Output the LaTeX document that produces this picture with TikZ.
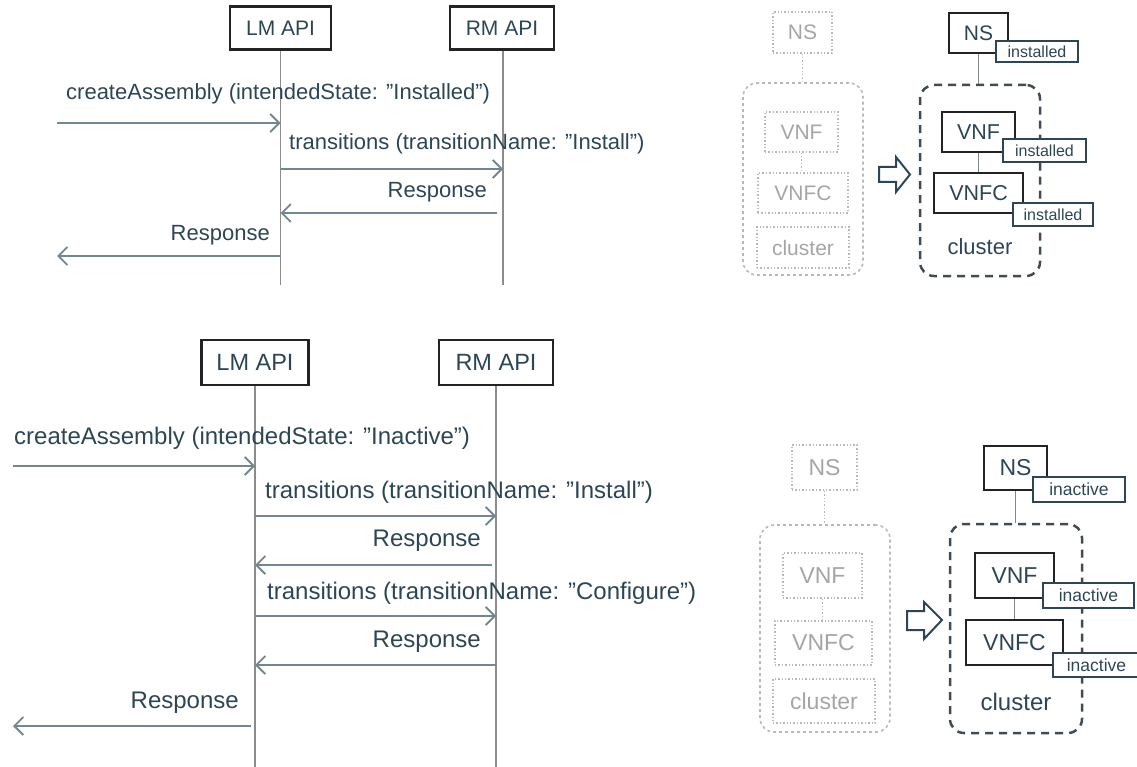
\documentclass[tikz,border=0pt]{standalone}
\usepackage{fontspec}
\setmainfont{Liberation Sans}
\usetikzlibrary{arrows.meta}
\definecolor{txt}{RGB}{45,70,85}
\definecolor{msgc}{RGB}{115,135,145}
\definecolor{lifec}{RGB}{140,140,140}
\definecolor{boxc}{RGB}{35,35,35}
\definecolor{fadec}{RGB}{185,185,185}
\definecolor{fadetxt}{RGB}{165,165,165}
\definecolor{contc}{RGB}{65,75,85}
\definecolor{linkc}{RGB}{125,135,140}
\tikzset{
  seqA/.style={font=\fontsize{22}{26}\selectfont, text=txt, inner sep=0pt},
  seqB/.style={font=\fontsize{24}{28}\selectfont, text=txt, inner sep=0pt},
  apibox/.style={draw=boxc, line width=2.5pt, fill=white, text=txt, inner sep=0pt},
  life/.style={draw=lifec, line width=1.8pt},
  msg/.style={draw=msgc, line width=2pt, -{Straight Barb[length=9pt,width=18pt,line width=1.8pt]}},
  gbox/.style={draw=fadec, dotted, line width=1.4pt, text=fadetxt, inner sep=0pt},
  gcont/.style={draw=fadec, dashed, line width=1.6pt, rounded corners=14pt, inner sep=0pt},
  glink/.style={draw=fadec, dotted, line width=1.4pt},
  dbox/.style={draw=boxc, line width=2.5pt, fill=white, text=txt, inner sep=0pt},
  dcont/.style={draw=contc, line width=2.5pt, dash pattern=on 8pt off 6pt, rounded corners=14pt, inner sep=0pt},
  dlink/.style={draw=linkc, line width=1.5pt},
  tagbox/.style={draw=txt, line width=1.6pt, fill=white, text=txt, inner sep=0pt},
  blockarrow/.style={draw=txt, line width=2pt, fill=white, line join=miter},
}
\begin{document}
\begin{tikzpicture}[x=1pt,y=-1pt]
\useasboundingbox (0,0) rectangle (1137,767);

%% ================= TOP SEQUENCE =================
\node[apibox, minimum width=101pt, minimum height=43pt, font=\fontsize{21}{25}\selectfont] (lmA) at (280.5,28) {LM API};
\node[apibox, minimum width=104pt, minimum height=43pt, font=\fontsize{21}{25}\selectfont] (rmA) at (502,28) {RM API};
\coordinate (lmAend) at (280.5,285);
\coordinate (rmAend) at (503,285);
\draw[life] (lmA.south) -- (lmAend);
\draw[life] (rmA.south -| rmAend) -- (rmAend);

\node[seqA, anchor=west] (tA1) at (66,94) {createAssembly (intendedState: "Installed")};
\coordinate (a1s) at (57,123);
\draw[msg] (a1s) -- (a1s -| lmA);

\node[seqA, anchor=west] (tA2) at (289,144) {transitions (transitionName: "Install")};
\coordinate (a2s) at (280.5,169);
\draw[msg] (a2s) -- (a2s -| rmAend);

\node[seqA, anchor=east] (tA3) at (487,192) {Response};
\coordinate (a3s) at (497,213);
\draw[msg] (a3s) -- (a3s -| lmA);

\node[seqA, anchor=east] (tA4) at (270,235) {Response};
\coordinate (a4e) at (57,256);
\draw[msg] (a4e -| lmA) -- (a4e);

%% ================= BOTTOM SEQUENCE =================
\node[apibox, minimum width=107pt, minimum height=45pt, font=\fontsize{23.5}{28}\selectfont] (lmB) at (255,362.5) {LM API};
\node[apibox, minimum width=114pt, minimum height=45pt, font=\fontsize{23.5}{28}\selectfont] (rmB) at (496,362.5) {RM API};
\coordinate (lmBend) at (255,767);
\coordinate (rmBend) at (496,767);
\draw[life] (lmB.south) -- (lmBend);
\draw[life] (rmB.south) -- (rmBend);

\node[seqB, anchor=west] (tB1) at (14,438) {createAssembly (intendedState: "Inactive")};
\coordinate (b1s) at (13,466);
\draw[msg] (b1s) -- (b1s -| lmB);

\node[seqB, anchor=west] (tB2) at (265,492) {transitions (transitionName: "Install")};
\coordinate (b2s) at (255,516);
\draw[msg] (b2s) -- (b2s -| rmB);

\node[seqB, anchor=east] (tB3) at (481,541) {Response};
\coordinate (b3s) at (492,565);
\draw[msg] (b3s) -- (b3s -| lmB);

\node[seqB, anchor=west] (tB4) at (267,593) {transitions (transitionName: "Configure")};
\coordinate (b4s) at (255,616);
\draw[msg] (b4s) -- (b4s -| rmB);

\node[seqB, anchor=east] (tB5) at (481,642) {Response};
\coordinate (b5s) at (496,665);
\draw[msg] (b5s) -- (b5s -| lmB);

\node[seqB, anchor=east] (tB6) at (239,703) {Response};
\coordinate (b6e) at (13,726);
\coordinate (b6s) at (251,726);
\draw[msg] (b6s) -- (b6e);

%% ================= TOP RIGHT PANEL =================
% faded (before)
\node[gcont, minimum width=120pt, minimum height=192pt] (gcA) at (803,179) {};
\node[gbox, minimum width=59pt, minimum height=41pt, font=\fontsize{21}{25}\selectfont] (gnsA) at (802.5,32.5) {NS};
\node[gbox, minimum width=73pt, minimum height=40pt, font=\fontsize{21}{25}\selectfont] (gvnfA) at (801.5,132) {VNF};
\node[gbox, minimum width=90pt, minimum height=40pt, font=\fontsize{21}{25}\selectfont] (gvnfcA) at (803,193) {VNFC};
\node[gbox, minimum width=92pt, minimum height=41pt, font=\fontsize{21}{25}\selectfont] (gclA) at (803,247.5) {cluster};
\draw[glink] (gnsA.south) -- (gnsA.south |- gcA.north);
\draw[glink] (gvnfA.south) -- (gvnfA.south |- gvnfcA.north);

% block arrow
\draw[blockarrow] (879,167) -- (896,167) -- (896,157) -- (910,174.5) -- (896,192) -- (896,182) -- (879,182) -- cycle;

% dark (after)
\node[dcont, minimum width=120pt, minimum height=191pt] (dcA) at (980,180.5) {};
\node[dbox, minimum width=59pt, minimum height=40pt, font=\fontsize{21}{25}\selectfont] (dnsA) at (978.5,33) {NS};
\node[dbox, minimum width=73pt, minimum height=40pt, font=\fontsize{21.5}{25}\selectfont] (dvnfA) at (978.5,132) {VNF};
\node[dbox, minimum width=89pt, minimum height=40pt, font=\fontsize{21.5}{25}\selectfont] (dvnfcA) at (978.5,193) {VNFC};
\node[text=txt, inner sep=0pt, font=\fontsize{22}{26}\selectfont] (dclA) at (980,247) {cluster};
\draw[dlink] (dnsA.south) -- (dnsA.south |- dcA.north);
\draw[dlink] (dvnfA.south) -- (dvnfA.south |- dvnfcA.north);
\node[tagbox, minimum width=82pt, minimum height=21pt, font=\fontsize{16}{18}\selectfont] (tagA1) at (1037,51.5) {installed};
\node[tagbox, minimum width=83pt, minimum height=23pt, font=\fontsize{16}{18}\selectfont] (tagA2) at (1044.5,150.5) {installed};
\node[tagbox, minimum width=80pt, minimum height=23pt, font=\fontsize{16}{18}\selectfont] (tagA3) at (1053,214.5) {installed};

%% ================= BOTTOM RIGHT PANEL =================
\node[gcont, minimum width=130pt, minimum height=207pt] (gcB) at (825,628.5) {};
\node[gbox, minimum width=65pt, minimum height=45pt, font=\fontsize{23}{27}\selectfont] (gnsB) at (824.5,467.5) {NS};
\node[gbox, minimum width=79pt, minimum height=45pt, font=\fontsize{23}{27}\selectfont] (gvnfB) at (822.5,575.5) {VNF};
\node[gbox, minimum width=97pt, minimum height=44pt, font=\fontsize{23}{27}\selectfont] (gvnfcB) at (823.5,643) {VNFC};
\node[gbox, minimum width=102pt, minimum height=44pt, font=\fontsize{23}{27}\selectfont] (gclB) at (824,701) {cluster};
\draw[glink] (gnsB.south) -- (gnsB.south |- gcB.north);
\draw[glink] (gvnfB.south) -- (gvnfB.south |- gvnfcB.north);

\draw[blockarrow] (907,611) -- (924,611) -- (924,602) -- (942,620) -- (924,639) -- (924,630) -- (907,630) -- cycle;

\node[dcont, minimum width=132pt, minimum height=209pt] (dcB) at (1016,628.5) {};
\node[dbox, minimum width=63pt, minimum height=44pt, font=\fontsize{23}{27}\selectfont] (dnsB) at (1015.5,468) {NS};
\node[dbox, minimum width=79pt, minimum height=45pt, font=\fontsize{23}{27}\selectfont] (dvnfB) at (1014.5,575.5) {VNF};
\node[dbox, minimum width=97pt, minimum height=45pt, font=\fontsize{23}{27}\selectfont] (dvnfcB) at (1014.5,642.5) {VNFC};
\node[text=txt, inner sep=0pt, font=\fontsize{24}{28}\selectfont] (dclB) at (1016,702) {cluster};
\draw[dlink] (dnsB.south) -- (dnsB.south |- dcB.north);
\draw[dlink] (dvnfB.south) -- (dvnfB.south |- dvnfcB.north);
\node[tagbox, minimum width=92pt, minimum height=25pt, font=\fontsize{17.5}{20}\selectfont] (tagB1) at (1079,489.5) {inactive};
\node[tagbox, minimum width=91pt, minimum height=25pt, font=\fontsize{17.5}{20}\selectfont] (tagB2) at (1088.5,595.5) {inactive};
\node[tagbox, minimum width=87pt, minimum height=24pt, font=\fontsize{17.5}{20}\selectfont] (tagB3) at (1096.5,665) {inactive};
\end{tikzpicture}
\end{document}
